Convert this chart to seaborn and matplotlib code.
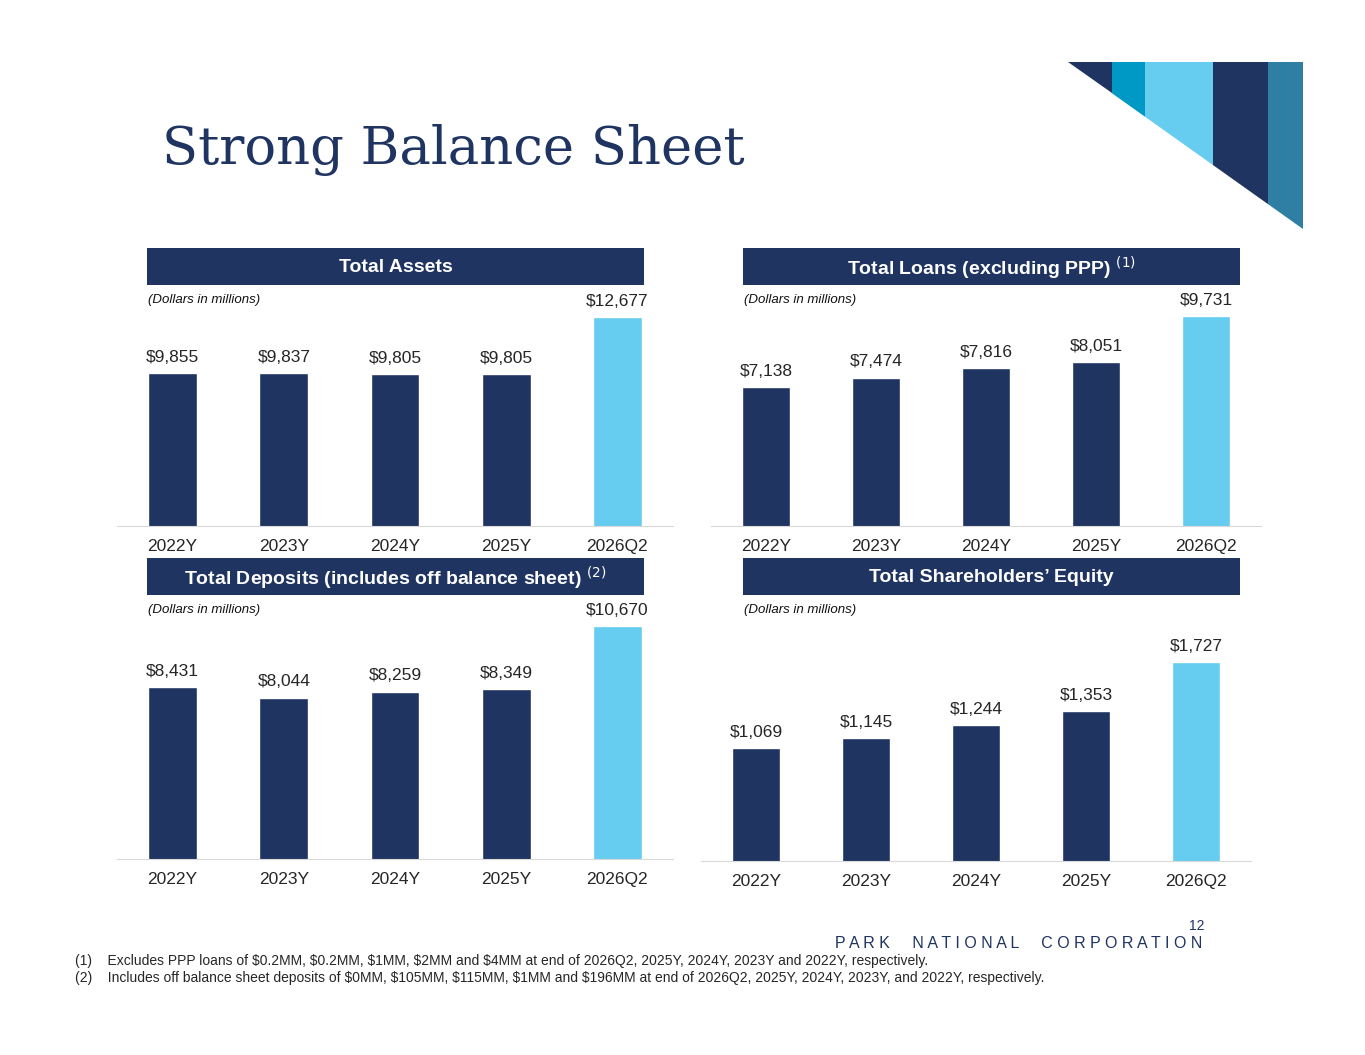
import matplotlib
matplotlib.use("Agg")
import matplotlib.pyplot as plt
import seaborn as sns
import pandas as pd
from matplotlib.patches import Polygon, Rectangle

sns.set_style("white")
plt.rcParams['font.family'] = ['Liberation Sans', 'DejaVu Sans']

years = ["2022Y", "2023Y", "2024Y", "2025Y", "2026Q2"]
assets = [9855, 9837, 9805, 9805, 12677]
loans = [7138, 7474, 7816, 8051, 9731]
deposits = [8431, 8044, 8259, 8349, 10670]
equity = [1069, 1145, 1244, 1353, 1727]

NAVY = "#1f3461"
LIGHT = "#66ccf0"
W, H = 1365, 1055

fig = plt.figure(figsize=(W / 100, H / 100), dpi=100)


def fx(px):
    return px / W


def fy(py):
    return 1 - py / H


# decoration top right
deco = fig.add_axes([0, 0, 1, 1], zorder=0)
deco.set_xlim(0, W)
deco.set_ylim(H, 0)
deco.axis("off")
stripes = [(1068, 1112, NAVY), (1112, 1145, "#0099c6"), (1145, 1213, LIGHT),
           (1213, 1268, NAVY), (1268, 1303, "#2e7fa3")]


def diag(x):
    return 62 + (x - 1068) * (229 - 62) / (1303 - 1068)


for x0, x1, c in stripes:
    deco.add_patch(Polygon([(x0, 62), (x1, 62), (x1, diag(x1)), (x0, diag(x0))],
                           closed=True, color=c, lw=0))

fig.text(fx(162), fy(150), "Strong Balance Sheet", fontsize=38, color=NAVY,
         family=["DejaVu Serif"], va="center")

# (title, superscript, values, header x0, x1, header y, axis x0, x1, baseline, top of max bar, y low limit)
panels = [
    ("Total Assets", None, assets, 147, 644, 248, 117, 673, 526, 317, 2144),
    ("Total Loans (excluding PPP)", "(1)", loans, 743, 1240, 248, 711, 1261, 526, 316, 2061),
    ("Total Deposits (includes off balance sheet)", "(2)", deposits, 147, 644, 558, 117, 673, 859, 626, 2118),
    ("Total Shareholders\u2019 Equity", None, equity, 743, 1240, 558, 701, 1251, 861, 662, 204),
]

for title, sup, vals, hx0, hx1, hy, ax0, ax1, base, top, lo in panels:
    # header bar
    deco.add_patch(Rectangle((hx0, hy), hx1 - hx0, 37, color=NAVY, lw=0))
    txt = title + (" $^{" + sup + "}$" if sup else "")
    deco.text((hx0 + hx1) / 2, hy + 20, txt, color="white", fontsize=14,
              fontweight="bold", ha="center", va="center")
    deco.text(hx0 + 1, hy + 52, "(Dollars in millions)", fontsize=9.5,
              style="italic", va="center", color="#111111")

    ax = fig.add_axes([fx(ax0), fy(base), fx(ax1) - fx(ax0), (base - top) / H], zorder=1)
    df = pd.DataFrame({"year": years, "value": vals})
    sns.barplot(data=df, x="year", y="value", hue="year", saturation=1,
                palette=[NAVY] * 4 + [LIGHT], width=0.44, legend=False, ax=ax)
    ax.set_xlim(-0.5, 4.5)
    ax.set_ylim(lo, max(vals))
    ax.patch.set_alpha(0)
    for s in ["top", "left", "right"]:
        ax.spines[s].set_visible(False)
    ax.spines["bottom"].set_color("#d9d9d9")
    ax.set_yticks([])
    ax.set_xlabel("")
    ax.set_ylabel("")
    ax.tick_params(axis="x", length=0, pad=9.5, labelsize=12.5)
    for i, v in enumerate(vals):
        ax.annotate(f"${v:,}", (i, v), xytext=(0, 6), textcoords="offset points",
                    ha="center", va="bottom", fontsize=12.5, annotation_clip=False)

deco.text(1205, 926, "12", fontsize=10, ha="right", va="center", color=NAVY)
company = "     ".join(" ".join(w) for w in ["PARK", "NATIONAL", "CORPORATION"])
deco.text(1202, 943, company, fontsize=11.5, ha="right", va="center", color=NAVY)
deco.text(75, 961, "(1)    Excludes PPP loans of $0.2MM, $0.2MM, $1MM, $2MM and $4MM at end of 2026Q2, 2025Y, 2024Y, 2023Y and 2022Y, respectively.",
          fontsize=10, va="center")
deco.text(75, 978, "(2)    Includes off balance sheet deposits of $0MM, $105MM, $115MM, $1MM and $196MM at end of 2026Q2, 2025Y, 2024Y, 2023Y, and 2022Y, respectively.",
          fontsize=10, va="center")

fig.savefig("out.png", dpi=100)
